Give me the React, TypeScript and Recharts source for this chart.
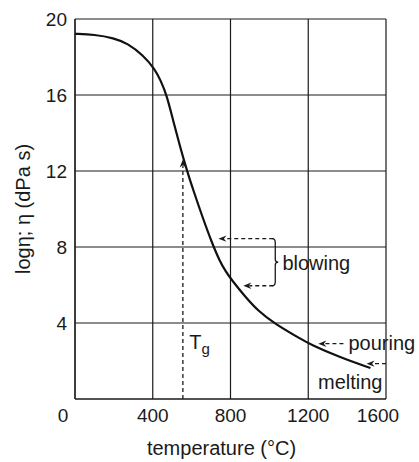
import React from 'react';
import {
  LineChart, Line, XAxis, YAxis, CartesianGrid, ReferenceLine, ReferenceDot
} from 'recharts';

// viscosity curve
const temperatures = [0, 100, 200, 270, 350, 412, 440, 472, 505, 540, 575, 610, 655, 705, 745, 775, 807, 876, 944, 1022, 1168, 1207, 1360, 1520];
const logViscosity = [19.22, 19.18, 19.0, 18.72, 18.1, 17.35, 16.78, 16.0, 14.65, 13.3, 12.05, 10.95, 9.6, 8.2, 7.25, 6.72, 6.25, 5.38, 4.62, 4.0, 3.12, 2.9, 2.2, 1.63];

const xTicks = [0, 400, 800, 1200, 1600];
const yTicks = [4, 8, 12, 16, 20];

// annotation positions (data units)
const tgTemp = 555;
const tgTop = 12.6;
const blowingTop = 8.44;
const blowingBottom = 5.96;
const blowingBracket = 1020;
const blowingTips = [738, 866];
const pouring = { from: 1381, to: 1252, y: 2.91 };
const melting = { from: 1600, to: 1500, y: 1.86 };

const data = temperatures.map((t, i) => ({ t, v: logViscosity[i] }));

const INK = '#1a1a1a';
const FONT = '"Liberation Sans", Arial, Helvetica, sans-serif';

const DashedArrow = (props: any) => {
  const { x1, y1, x2, y2 } = props;
  const dx = x2 - x1;
  const dy = y2 - y1;
  const len = Math.hypot(dx, dy) || 1;
  const ux = dx / len;
  const uy = dy / len;
  const head = 8;
  const half = 3.2;
  const bx = x2 - ux * head;
  const by = y2 - uy * head;
  return (
    <g>
      <line x1={x1} y1={y1} x2={bx + ux * 2} y2={by + uy * 2} stroke={INK} strokeWidth={1.3} strokeDasharray="4 3" />
      <polygon
        points={`${x2},${y2} ${bx - uy * half},${by + ux * half} ${bx + ux * 2.5},${by + uy * 2.5} ${bx + uy * half},${by - ux * half}`}
        fill={INK}
      />
    </g>
  );
};

const Brace = (props: any) => {
  const { x1, y1, y2 } = props;
  const x = x1 + 1;
  const ym = (y1 + y2) / 2;
  const d = `M ${x - 2} ${y1} Q ${x + 1} ${y1} ${x + 1} ${y1 + 4} L ${x + 1} ${ym - 3} Q ${x + 1} ${ym} ${x + 4} ${ym} Q ${x + 1} ${ym} ${x + 1} ${ym + 3} L ${x + 1} ${y2 - 4} Q ${x + 1} ${y2} ${x - 2} ${y2}`;
  return <path d={d} fill="none" stroke={INK} strokeWidth={1.3} />;
};

const note = (text: string, anchor: 'start' | 'end', sub?: string) => (props: any) => (
  <text x={props.cx} y={props.cy} textAnchor={anchor} fill={INK} fontSize={20} fontFamily={FONT}>
    {text}
    {sub ? <tspan fontSize={15} dy={5}>{sub}</tspan> : null}
  </text>
);

const XTick = (props: any) => {
  const { x, y, payload } = props;
  const shift = payload.value === 0 ? -12 : payload.value === 1600 ? -8 : 0;
  return (
    <text x={x + shift} y={y + 15} textAnchor="middle" fill={INK} fontSize={19} fontFamily={FONT}>
      {payload.value}
    </text>
  );
};

export default function App() {
  return (
    <div style={{ position: 'absolute', left: 0, top: 0, background: '#fff' }}>
      <LineChart width={419} height={462} data={data} margin={{ top: 19, right: 33, bottom: 0, left: 0 }}>
        <CartesianGrid stroke={INK} strokeWidth={1.2} />
        <XAxis
          dataKey="t"
          type="number"
          domain={[0, 1600]}
          ticks={xTicks}
          height={63}
          tickLine={false}
          axisLine={{ stroke: INK, strokeWidth: 1.2 }}
          tick={<XTick />}
          label={{
            content: ({ viewBox }: any) => (
              <text x={viewBox.x + viewBox.width / 2 - 9} y={viewBox.y + 56} textAnchor="middle" fill={INK} fontSize={20} fontFamily={FONT}>
                temperature (°C)
              </text>
            ),
          }}
        />
        <YAxis
          type="number"
          domain={[0, 20]}
          ticks={yTicks}
          width={75}
          tickLine={false}
          axisLine={{ stroke: INK, strokeWidth: 1.2 }}
          tick={{ fill: INK, fontSize: 19, fontFamily: FONT }}
          label={{
            content: ({ viewBox }: any) => {
              const cx = viewBox.x + 30;
              const cy = viewBox.y + viewBox.height / 2;
              return (
                <text x={cx} y={cy} transform={`rotate(-90 ${cx} ${cy})`} textAnchor="middle" fill={INK} fontSize={20} fontFamily={FONT}>
                  logη; η (dPa s)
                </text>
              );
            },
          }}
        />
        <Line type="basis" dataKey="v" stroke="#111" strokeWidth={2.2} dot={false} isAnimationActive={false} />

        <ReferenceLine segment={[{ x: tgTemp, y: 0 }, { x: tgTemp, y: tgTop }]} shape={DashedArrow} />
        <ReferenceLine segment={[{ x: blowingBracket, y: blowingTop }, { x: blowingTips[0], y: blowingTop }]} shape={DashedArrow} />
        <ReferenceLine segment={[{ x: blowingBracket, y: blowingBottom }, { x: blowingTips[1], y: blowingBottom }]} shape={DashedArrow} />
        <ReferenceLine segment={[{ x: blowingBracket, y: blowingTop }, { x: blowingBracket, y: blowingBottom }]} shape={Brace} />
        <ReferenceLine segment={[{ x: pouring.from, y: pouring.y }, { x: pouring.to, y: pouring.y }]} shape={DashedArrow} />
        <ReferenceLine segment={[{ x: melting.from, y: melting.y }, { x: melting.to, y: melting.y }]} shape={DashedArrow} />

        <ReferenceDot x={1067} y={6.8} r={0} shape={note('blowing', 'start')} />
        <ReferenceDot x={1407} y={2.6} r={0} shape={note('pouring', 'start')} />
        <ReferenceDot x={1582} y={0.54} r={0} shape={note('melting', 'end')} />
        <ReferenceDot x={588} y={2.65} r={0} shape={note('T', 'start', 'g')} />
      </LineChart>
    </div>
  );
}
